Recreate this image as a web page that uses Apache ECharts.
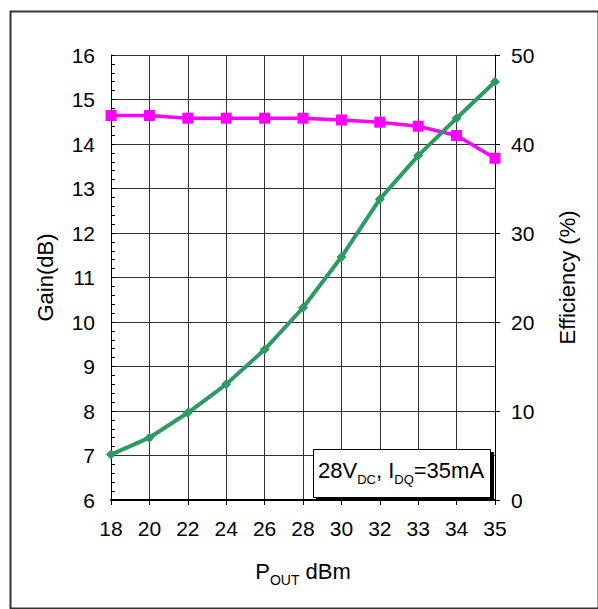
<!DOCTYPE html>
<html>
<head>
<meta charset="utf-8">
<script src="https://cdn.jsdelivr.net/npm/echarts@6/dist/echarts.min.js"></script>
<style>
html,body{margin:0;padding:0;background:#fff;}
#chart{width:598px;height:609px;}
</style>
</head>
<body>
<div id="chart"></div>
<script>
const categories = ['18','20','22','24','26','28','30','32','33','34','35'];
const gain = [14.64, 14.64, 14.58, 14.58, 14.58, 14.58, 14.54, 14.49, 14.40, 14.19, 13.68];
const efficiency = [5.1, 7.0, 9.8, 13.0, 16.9, 21.6, 27.3, 33.8, 38.7, 42.9, 47.0];

const FONT = '"Liberation Sans", Arial, sans-serif';
const chart = echarts.init(document.getElementById('chart'), null, {renderer: 'svg'});

chart.setOption({
  backgroundColor: '#fff',
  animation: false,
  grid: {left: 111, right: 103, top: 55, bottom: 109, containLabel: false},
  xAxis: {
    type: 'category',
    data: categories,
    boundaryGap: false,
    name: '{m|P}{s|OUT}{m| dBm}',
    nameLocation: 'middle',
    nameGap: 60,
    nameTextStyle: {
      fontFamily: FONT, color: '#000',
      rich: {
        m: {fontFamily: FONT, fontSize: 22, color: '#000', verticalAlign: 'bottom'},
        s: {fontFamily: FONT, fontSize: 14, color: '#000', verticalAlign: 'bottom', padding: [0, 0, -5, 0]}
      }
    },
    axisLine: {lineStyle: {color: '#000', width: 2}},
    axisTick: {show: true, inside: false, length: 5, alignWithLabel: true, lineStyle: {color: '#000'}},
    axisLabel: {fontFamily: FONT, fontSize: 21, color: '#000', margin: 18},
    splitLine: {show: true, lineStyle: {color: '#333', width: 1}}
  },
  yAxis: [
    {
      type: 'value', min: 6, max: 16, interval: 1,
      name: 'Gain(dB)', nameLocation: 'middle', nameGap: 55, nameRotate: 90,
      nameTextStyle: {fontFamily: FONT, fontSize: 22, color: '#000'},
      axisLine: {show: true, lineStyle: {color: '#000', width: 1}},
      axisTick: {show: true, inside: true, length: 4, lineStyle: {color: '#000'}},
      minorTick: {show: true, splitNumber: 5, length: 4, lineStyle: {color: '#000'}},
      axisLabel: {fontFamily: FONT, fontSize: 21, color: '#000', margin: 16},
      splitLine: {show: true, lineStyle: {color: '#333', width: 1}}
    },
    {
      type: 'value', min: 0, max: 50, interval: 10, position: 'right',
      name: 'Efficiency (%)', nameLocation: 'middle', nameGap: 61, nameRotate: 90,
      nameTextStyle: {fontFamily: FONT, fontSize: 22, color: '#000'},
      axisLine: {show: true, lineStyle: {color: '#000', width: 1}},
      axisTick: {show: true, inside: false, length: 5, lineStyle: {color: '#000'}},
      axisLabel: {fontFamily: FONT, fontSize: 21, color: '#000', margin: 16},
      splitLine: {show: false}
    }
  ],
  series: [
    {
      name: 'Gain', type: 'line', yAxisIndex: 0, data: gain,
      symbol: 'rect', symbolSize: 11,
      lineStyle: {color: '#FF00FF', width: 3.5},
      itemStyle: {color: '#FF00FF'},
      z: 3
    },
    {
      name: 'Efficiency', type: 'line', yAxisIndex: 1, data: efficiency,
      symbol: 'diamond', symbolSize: 10,
      lineStyle: {color: '#2E9A63', width: 4},
      itemStyle: {color: '#2E9A63'},
      z: 4
    }
  ],
  graphic: [
    {
      type: 'rect', left: 8, top: 9, z: 0,
      shape: {width: 588, height: 597},
      style: {fill: 'none', stroke: '#333', lineWidth: 2}
    },
    {
      type: 'rect', left: 313, top: 449, z: 10,
      shape: {width: 177, height: 48},
      style: {fill: '#fff', stroke: '#000', lineWidth: 1, shadowColor: '#000', shadowOffsetX: 3, shadowOffsetY: 3, shadowBlur: 0}
    },
    {
      type: 'text', left: 318, top: 459, z: 11,
      style: {
        text: '{m|28V}{s|DC}{m|, I}{s|DQ}{m|=35mA}',
        rich: {
          m: {fontFamily: FONT, fontSize: 22, fill: '#000', verticalAlign: 'bottom'},
          s: {fontFamily: FONT, fontSize: 13, fill: '#000', verticalAlign: 'bottom', padding: [0, 0, -5, 0]}
        }
      }
    }
  ]
});
</script>
</body>
</html>
